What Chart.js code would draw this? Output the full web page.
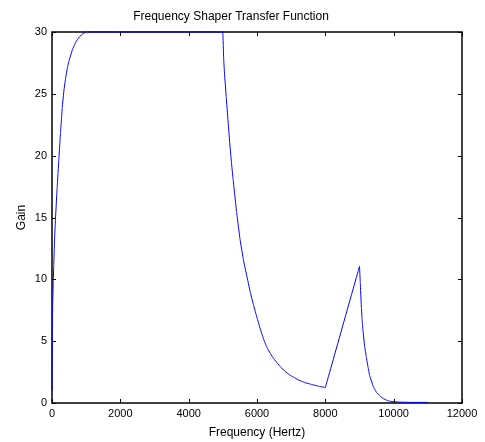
<!DOCTYPE html>
<html>
<head>
<meta charset="utf-8">
<script src="https://cdn.jsdelivr.net/npm/chart.js@4/dist/chart.umd.min.js"></script>
<style>
    html, body { margin: 0; padding: 0; background: #fff; }
    #wrap { width: 485px; height: 442px; position: relative; }
</style>
</head>
<body>
<div id="wrap"><canvas id="shaper-chart"></canvas></div>
<script>
// --- values ---
const freqHz = [0, 5, 10, 20, 35, 50, 75, 100, 150, 200, 250, 300, 350, 400, 450, 500,
    600, 700, 800, 900, 1000,
    5000, 5025, 5050, 5100, 5150, 5200, 5250, 5300, 5400, 5500, 5600, 5700, 5800, 5900,
    6000, 6100, 6200, 6300, 6400, 6500, 6600, 6700, 6800, 6900, 7000, 7200, 7400, 7600,
    7800, 8000,
    9000, 9025, 9050, 9075, 9100, 9150, 9200, 9250, 9300, 9400, 9500, 9600, 9700, 9800,
    9900, 10000, 10200, 10500, 11000];
const gain = [1, 4, 6, 8, 9.7, 11, 13.2, 14.8, 17.4, 19.7, 21.9, 23.9, 25.3, 26.3, 27.1, 27.7,
    28.6, 29.2, 29.6, 29.85, 30,
    30, 27.8, 26.6, 24.7, 22.9, 21.1, 19.5, 18.1, 15.5, 13.3, 11.6, 10.3, 9.0, 7.9,
    6.9, 5.95, 5.1, 4.45, 3.95, 3.55, 3.2, 2.9, 2.6, 2.38, 2.2, 1.88, 1.65, 1.5,
    1.36, 1.25,
    11.05, 9.6, 8.0, 6.8, 5.9, 4.6, 3.7, 2.9, 2.2, 1.35, 0.85, 0.55, 0.35, 0.22,
    0.14, 0.1, 0.07, 0.05, 0.05];

const xTicks = [0, 2000, 4000, 6000, 8000, 10000, 12000];
const yTicks = [0, 5, 10, 15, 20, 25, 30];

const FONT = "'Liberation Sans', Arial, sans-serif";

// MATLAB style box with ticks pointing inwards
const boxPlugin = {
    id: 'matlabBox',
    beforeDatasetsDraw(chart) {
        const { ctx, chartArea: a, scales } = chart;
        const len = 4;
        ctx.save();
        ctx.strokeStyle = '#000';
        ctx.lineWidth = 1;
        ctx.beginPath();
        xTicks.forEach(v => {
            const px = Math.round(scales.x.getPixelForValue(v)) + 0.5;
            ctx.moveTo(px, a.bottom); ctx.lineTo(px, a.bottom - len);
            ctx.moveTo(px, a.top); ctx.lineTo(px, a.top + len);
        });
        yTicks.forEach(v => {
            const py = Math.round(scales.y.getPixelForValue(v)) + 0.5;
            ctx.moveTo(a.left, py); ctx.lineTo(a.left + len, py);
            ctx.moveTo(a.right, py); ctx.lineTo(a.right - len, py);
        });
        ctx.stroke();
        ctx.lineWidth = 1.5;
        ctx.strokeRect(a.left, a.top, a.right - a.left, a.bottom - a.top);
        ctx.restore();
    }
};

const points = freqHz.map((f, i) => ({ x: f, y: gain[i] }));

new Chart(document.getElementById('shaper-chart'), {
    type: 'line',
    data: {
        datasets: [{
            data: points,
            borderColor: '#0000ff',
            borderWidth: 1,
            pointRadius: 0,
            // tiny tension keeps segments straight but avoids the fast-path blips
            tension: 0.001,
            fill: false,
            clip: 3
        }]
    },
    options: {
        responsive: true,
        maintainAspectRatio: false,
        animation: false,
        layout: { padding: { left: 0, right: 23, top: 0, bottom: 0 } },
        plugins: {
            legend: { display: false },
            tooltip: { enabled: false },
            title: {
                display: true,
                text: 'Frequency Shaper Transfer Function',
                color: '#000',
                font: { family: FONT, size: 12, weight: 'normal' },
                padding: { top: 9, bottom: 8.6 }
            }
        },
        scales: {
            x: {
                type: 'linear',
                min: 0,
                max: 12000,
                afterBuildTicks: s => { s.ticks = xTicks.map(v => ({ value: v })); },
                afterFit: s => { s.height = 39; },
                grid: { display: false, drawTicks: false },
                border: { display: false },
                ticks: {
                    color: '#000',
                    padding: 4,
                    maxRotation: 0,
                    autoSkip: false,
                    font: { family: FONT, size: 11 },
                    callback: v => String(v)
                },
                title: {
                    display: true,
                    text: 'Frequency (Hertz)',
                    color: '#000',
                    font: { family: FONT, size: 12 },
                    padding: { top: 0, bottom: 2 }
                }
            },
            y: {
                type: 'linear',
                min: 0,
                max: 30,
                afterBuildTicks: s => { s.ticks = yTicks.map(v => ({ value: v })); },
                afterFit: s => { s.width = 52; },
                grid: { display: false, drawTicks: false },
                border: { display: false },
                ticks: {
                    color: '#000',
                    padding: 5,
                    autoSkip: false,
                    font: { family: FONT, size: 11 },
                    callback: v => String(v)
                },
                title: {
                    display: true,
                    text: 'Gain',
                    color: '#000',
                    font: { family: FONT, size: 12 },
                    padding: { top: 14, bottom: 0 }
                }
            }
        }
    },
    plugins: [boxPlugin]
});
</script>
</body>
</html>
